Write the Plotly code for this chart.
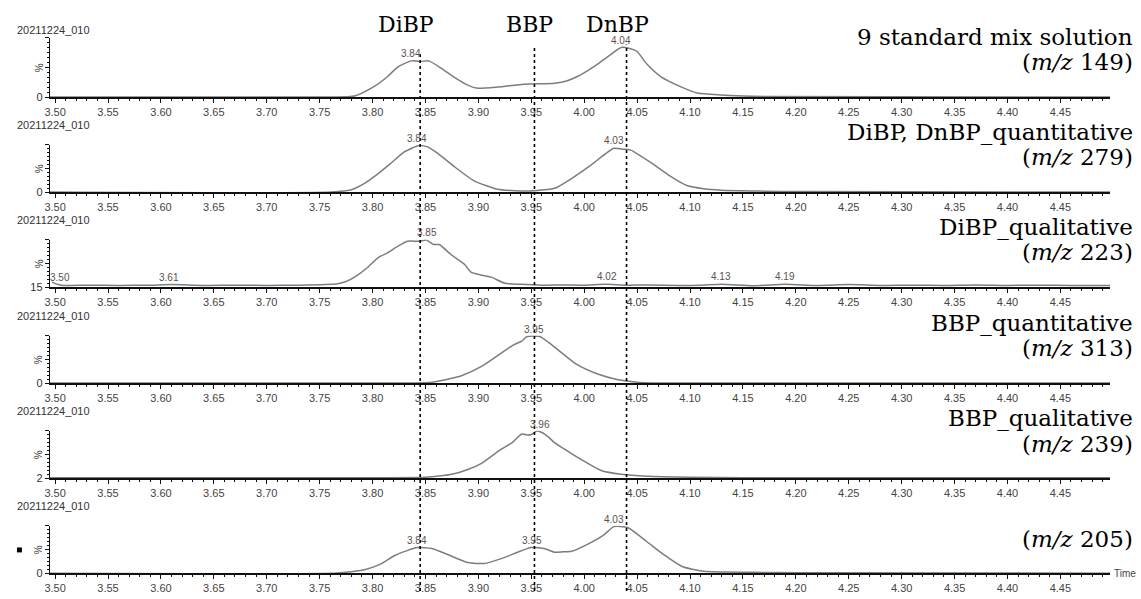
import numpy as np
import plotly.graph_objects as go

# ---------------- data ----------------
sample_id = "20211224_010"
compound_names = ["DiBP", "BBP", "DnBP"]
compound_rt = [3.845, 3.953, 4.040]

# panel 1 : 9 standard mix solution (m/z 149)
t1 = [3.495, 3.760, 3.783, 3.802, 3.814, 3.824, 3.837, 3.846, 3.853, 3.865, 3.877, 3.888,
      3.898, 3.918, 3.943, 3.972, 3.984, 3.994, 4.003, 4.013, 4.022, 4.035, 4.043, 4.050,
      4.059, 4.073, 4.092, 4.107, 4.129, 4.150, 4.170, 4.500]
i1 = [0, 0, 2, 22, 41, 61, 73, 72, 73, 58, 40, 26,
      18, 20, 26, 28, 33, 42, 53, 67, 81, 100, 98, 92,
      67, 40, 20, 8, 4, 2, 1, 0]
lab1_t = [3.836, 4.035]
lab1_txt = ["3.84", "4.04"]

# panel 2 : DiBP, DnBP quantitative (m/z 279)
t2 = [3.495, 3.761, 3.780, 3.792, 3.805, 3.818, 3.830, 3.844, 3.852, 3.861, 3.877, 3.896,
      3.918, 3.935, 3.953, 3.972, 3.988, 4.007, 4.028, 4.036, 4.044, 4.063, 4.082, 4.097,
      4.113, 4.129, 4.170, 4.200, 4.500]
i2 = [0, 0, 5, 18, 39, 63, 86, 100, 97, 84, 55, 24,
      6, 3, 3, 8, 29, 59, 94, 92, 90, 63, 33, 14,
      7, 4, 2, 1, 0]
lab2_t = [3.842, 4.028]
lab2_txt = ["3.84", "4.03"]

# panel 3 : DiBP qualitative (m/z 223)
t3 = [3.497, 3.502, 3.508, 3.530, 3.560, 3.590, 3.610, 3.640, 3.670, 3.700, 3.730, 3.755,
      3.767, 3.775, 3.783, 3.795, 3.805, 3.814, 3.824, 3.833, 3.844, 3.851, 3.858, 3.863,
      3.874, 3.887, 3.893, 3.902, 3.912, 3.925, 3.940, 3.960, 3.980, 4.000, 4.020, 4.040,
      4.060, 4.090, 4.110, 4.130, 4.160, 4.190, 4.220, 4.250, 4.280, 4.310, 4.340, 4.370,
      4.400, 4.430, 4.460, 4.500]
i3 = [24, 20, 18, 18.5, 18, 18.5, 19.5, 18, 18.5, 18, 18.5, 19.5,
      21, 25, 33, 50, 68, 77, 89, 98, 98, 100, 92, 92,
      74, 56, 42, 37, 33, 22, 20, 18.5, 19, 18.5, 20, 18.5,
      19, 18, 18.5, 20, 17.5, 20, 18, 19.5, 18, 18.5, 18, 19,
      18, 18.5, 18, 18]
lab3_t = [3.505, 3.608, 3.851, 4.022, 4.129, 4.190]
lab3_txt = ["3.50", "3.61", "3.85", "4.02", "4.13", "4.19"]

# panel 4 : BBP quantitative (m/z 313)
t4 = [3.495, 3.830, 3.856, 3.870, 3.884, 3.903, 3.915, 3.925, 3.935, 3.941, 3.946, 3.958,
      3.966, 3.975, 3.993, 4.012, 4.031, 4.050, 4.078, 4.500]
i4 = [0, 0, 2, 8, 16, 36, 54, 70, 84, 90, 100, 100,
      88, 72, 40, 20, 8, 2, 0, 0]
lab4_t = [3.953]
lab4_txt = ["3.95"]

# panel 5 : BBP qualitative (m/z 239)
t5 = [3.495, 3.800, 3.850, 3.865, 3.875, 3.890, 3.903, 3.912, 3.922, 3.932, 3.941, 3.946,
      3.950, 3.955, 3.961, 3.966, 3.972, 3.981, 3.997, 4.016, 4.035, 4.060, 4.100, 4.150, 4.500]
i5 = [3, 3, 4, 7, 10, 20, 33, 47, 63, 76, 94, 92,
      93, 100, 96, 88, 76, 63, 41, 18, 10, 6, 4, 3, 3]
lab5_t = [3.958]
lab5_txt = ["3.96"]

# panel 6 : (m/z 205)
t6 = [3.495, 3.764, 3.780, 3.795, 3.808, 3.821, 3.832, 3.842, 3.856, 3.871, 3.890, 3.906,
      3.925, 3.937, 3.950, 3.962, 3.972, 3.980, 3.988, 4.003, 4.019, 4.028, 4.041, 4.059,
      4.075, 4.092, 4.113, 4.160, 4.200, 4.500]
i6 = [0, 0, 3, 9, 20, 38, 48, 55, 53, 40, 23, 21,
      34, 45, 55, 53, 45, 46, 47, 62, 83, 100, 98, 68,
      40, 15, 4, 2, 1, 0]
lab6_t = [3.842, 3.951, 4.028]
lab6_txt = ["3.84", "3.95", "4.03"]

title_line1 = ["9 standard mix solution", "DiBP, DnBP_quantitative", "DiBP_qualitative",
               "BBP_quantitative", "BBP_qualitative", ""]
title_mz = ["149", "279", "223", "313", "239", "205"]
y_floor = [0, 0, 15, 0, 2, 0]
y_ceiling = [120, 102, 101, 102, 101, 102]

T = [t1, t2, t3, t4, t5, t6]
I = [i1, i2, i3, i4, i5, i6]
LT = [lab1_t, lab2_t, lab3_t, lab4_t, lab5_t, lab6_t]
LX = [lab1_txt, lab2_txt, lab3_txt, lab4_txt, lab5_txt, lab6_txt]

# ---------------- layout geometry (pixels) ----------------
W, H = 1141, 599
def px(x):
    return x / W
def py(y):
    return 1 - y / H

bottoms = [98, 194, 290, 387, 483, 579]
tops = [38, 146, 242, 339, 435, 531]
XL, XR = 45, 1110
x_range = [3.495, 4.497]

SANS = "Liberation Sans, Arial, sans-serif"
SERIF = "DejaVu Serif, serif"

fig = go.Figure()
layout = {}
annotations = []
shapes = []

for k in range(6):
    n = k + 1
    xa = "x" if n == 1 else f"x{n}"
    ya = "y" if n == 1 else f"y{n}"
    xkey = "xaxis" if n == 1 else f"xaxis{n}"
    ykey = "yaxis" if n == 1 else f"yaxis{n}"
    ylo, yhi = y_floor[k], y_ceiling[k]

    fig.add_trace(go.Scatter(
        x=T[k], y=I[k], mode="lines",
        line=dict(color="#7d7d7d", width=1.5, shape="spline", smoothing=0.6),
        xaxis=xa, yaxis=ya, hoverinfo="skip", showlegend=False))

    layout[xkey] = dict(
        domain=[px(XL), px(XR)], range=x_range, anchor=ya,
        showline=True, linecolor="#111", linewidth=2,
        ticks="outside", ticklen=4, tickwidth=1, tickcolor="#111",
        tick0=3.5, dtick=0.05, tickformat=".2f",
        minor=dict(ticks="outside", ticklen=2, tick0=3.5, dtick=0.01, tickcolor="#111", tickwidth=1),
        showgrid=False, zeroline=False, fixedrange=True,
        tickfont=dict(family=SANS, size=11, color="#444"))

    layout[ykey] = dict(
        domain=[py(bottoms[k]), py(tops[k])], range=[ylo, yhi], anchor=xa,
        showline=True, linecolor="#111", linewidth=1,
        ticks="outside", ticklen=4, tickwidth=1, tickcolor="#111",
        tickvals=[ylo, (ylo + yhi) / 2, yhi], ticktext=[str(ylo), "", ""],
        minor=dict(ticks="outside", ticklen=2, tick0=ylo, dtick=(yhi - ylo) / 12,
                   tickcolor="#111", tickwidth=1),
        showgrid=False, zeroline=False, fixedrange=True,
        tickfont=dict(family=SANS, size=11, color="#333"))

    # header
    annotations.append(dict(text=sample_id, xref="paper", yref="paper",
                            x=px(10), y=py(bottoms[k] - 68), xanchor="left", yanchor="middle",
                            showarrow=False, font=dict(family=SANS, size=11, color="#333")))
    # % label
    annotations.append(dict(text="%", xref="paper", yref="paper",
                            x=px(34), y=py((bottoms[k] + tops[k]) / 2), xanchor="center",
                            yanchor="middle", textangle=-90, showarrow=False,
                            font=dict(family=SANS, size=10, color="#333")))
    # peak labels
    for t, txt in zip(LT[k], LX[k]):
        yv = float(np.interp(t, T[k], I[k]))
        annotations.append(dict(text=txt, xref=xa, yref=ya, x=t, y=yv,
                                xanchor="center", yanchor="bottom", yshift=0,
                                showarrow=False,
                                font=dict(family=SANS, size=10, color="#5a5050")))
    # right-hand titles
    if title_line1[k]:
        annotations.append(dict(text=title_line1[k], xref="paper", yref="paper",
                                x=px(1135), y=py(bottoms[k] - 61), xanchor="right",
                                yanchor="middle", showarrow=False,
                                font=dict(family=SERIF, size=23, color="#000")))
    annotations.append(dict(text=f"(<i>m/z</i> {title_mz[k]})", xref="paper", yref="paper",
                            x=px(1135), y=py(bottoms[k] - 35), xanchor="right",
                            yanchor="middle", showarrow=False,
                            font=dict(family=SERIF, size=23, color="#000")))

# compound markers (dotted lines + names)
name_shift = [-14, -5, -9]
line_top = [53, 48, 45]
for name, rt, sh, lt in zip(compound_names, compound_rt, name_shift, line_top):
    shapes.append(dict(type="line", xref="x", yref="paper", x0=rt, x1=rt,
                       y0=py(597), y1=py(lt), line=dict(color="#000", width=1.6, dash="dot")))
    annotations.append(dict(text=name, xref="x", yref="paper", x=rt, xshift=sh,
                            y=py(25), xanchor="center", yanchor="middle", showarrow=False,
                            font=dict(family=SERIF, size=22, color="#000")))

# Time label and marker square
annotations.append(dict(text="Time", xref="paper", yref="paper", x=px(1112), y=py(579),
                        xanchor="left", yanchor="middle", showarrow=False,
                        font=dict(family=SANS, size=10, color="#444")))
shapes.append(dict(type="rect", xref="paper", yref="paper", x0=px(12), x1=px(17),
                   y0=py(558), y1=py(553), fillcolor="#000", line=dict(width=0)))

fig.update_layout(
    width=W, height=H, margin=dict(l=0, r=0, t=0, b=0),
    paper_bgcolor="white", plot_bgcolor="white",
    annotations=annotations, shapes=shapes, showlegend=False,
    **layout)

fig.write_html("out.html", config={"displayModeBar": False},
               post_script="document.body.style.margin='0';document.body.style.overflow='hidden';")
